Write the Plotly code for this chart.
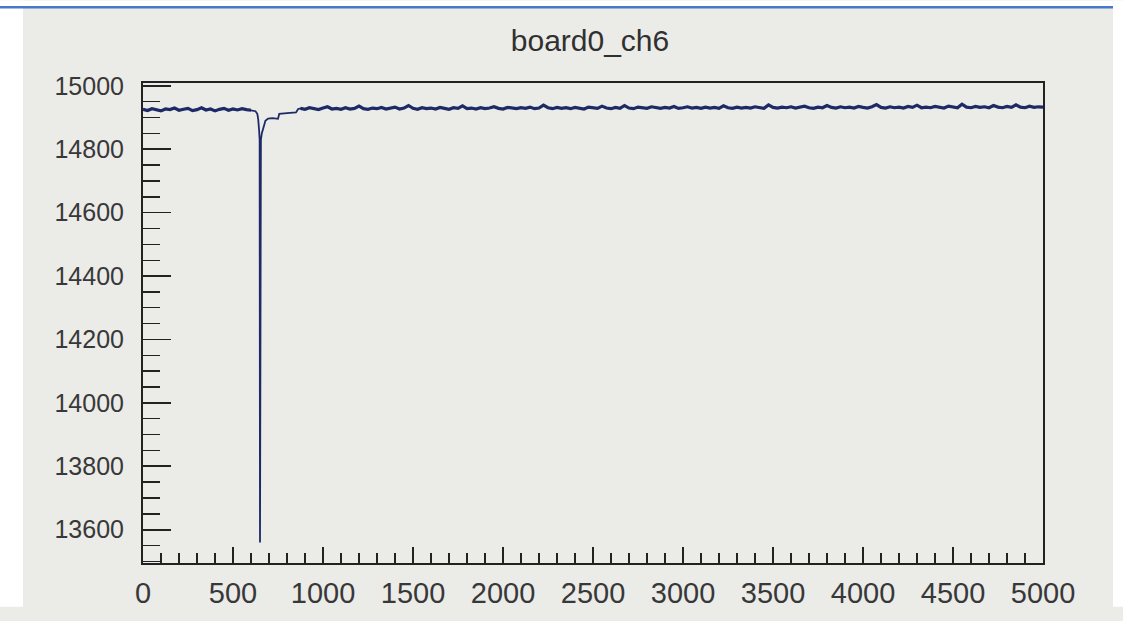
import plotly.graph_objects as go

# ---------------- data ----------------
SAMPLE_STEP = 25

# baseline before the pulse: x = 0 .. 600 (step 25)
pre_values = [14926, 14922, 14928, 14924, 14921, 14927, 14925, 14930, 14923, 14926,
              14929, 14922, 14925, 14931, 14924, 14927, 14921, 14926, 14929, 14923,
              14927, 14924, 14928, 14925, 14923]

# pulse region (irregular sampling)
pulse_x = [610, 625, 635, 640, 645, 648, 650, 652, 655, 660, 668, 680, 695, 720, 750,
           757, 800, 850, 862]
pulse_y = [14922, 14920, 14912, 14895, 14860, 14830, 13560, 14820, 14830, 14850, 14870,
           14890, 14897, 14898, 14896, 14912, 14914, 14916, 14927]

# baseline after the pulse: x = 875 .. 5000 (step 25)
post_start = 875
post_values = [
    14929, 14926, 14931, 14928, 14925, 14930, 14934, 14927, 14929, 14926,
    14931, 14927, 14929, 14936, 14928, 14926, 14930, 14928, 14932, 14927,
    14929, 14933, 14927, 14930, 14938, 14929, 14926, 14931, 14928, 14930,
    14927, 14932, 14929, 14926, 14931, 14929, 14937, 14928, 14930, 14927,
    14931, 14928, 14930, 14934, 14929, 14927, 14932, 14930, 14928, 14931,
    14929, 14933, 14928, 14930, 14939, 14931, 14928, 14932, 14929, 14931,
    14928, 14932, 14930, 14927, 14933, 14930, 14929, 14936, 14930, 14928,
    14932, 14929, 14938, 14930, 14928, 14933, 14930, 14929, 14934, 14931,
    14929, 14932, 14930, 14935, 14929, 14931, 14934, 14930, 14932, 14929,
    14933, 14930, 14932, 14929, 14937, 14931, 14929, 14933, 14930, 14932,
    14930, 14934, 14931, 14929, 14940, 14932, 14930, 14933, 14931, 14934,
    14930, 14932, 14936, 14931, 14929, 14933, 14931, 14938, 14932, 14930,
    14934, 14931, 14933, 14930, 14935, 14932, 14930, 14934, 14941, 14932,
    14930, 14934, 14931, 14933, 14930, 14935, 14932, 14939, 14931, 14933,
    14931, 14935, 14932, 14930, 14936, 14933, 14931, 14942, 14933, 14931,
    14935, 14932, 14934, 14931, 14938, 14933, 14931, 14935, 14932, 14940,
    14933, 14931, 14936, 14932, 14934, 14933]

title_text = "board0_ch6"
x_tickvals = [0, 500, 1000, 1500, 2000, 2500, 3000, 3500, 4000, 4500, 5000]
y_tickvals = [13600, 13800, 14000, 14200, 14400, 14600, 14800, 15000]
x_range = [0, 5000]
y_range = [13495, 15009]

# ---------------- assemble series ----------------
pre_x = [i * SAMPLE_STEP for i in range(len(pre_values))]
post_x = [post_start + i * SAMPLE_STEP for i in range(len(post_values))]
xs = pre_x + pulse_x + post_x
ys = pre_values + pulse_y + post_values

BG = "#ebebe8"
INK = "#222222"
TXT = "#383838"
LINE = "#1e2a66"

fig = go.Figure()
# whole waveform (thin, as the fast pulse is drawn in the picture)
fig.add_trace(go.Scatter(x=xs, y=ys, mode="lines",
                         line=dict(color=LINE, width=1.8),
                         hoverinfo="skip", showlegend=False))
# noisy baseline looks heavier in the picture
fig.add_trace(go.Scatter(x=pre_x + [None] + post_x, y=pre_values + [None] + post_values,
                         mode="lines", line=dict(color=LINE, width=3.2),
                         connectgaps=False, hoverinfo="skip", showlegend=False))

W, H = 1123, 621
ML, MR, MT, MB = 143, 80, 83, 43
plot_h = H - MT - MB
plot_w = W - ML - MR

def paper_y(py):
    return (H - MB - py) / plot_h

def paper_x(px):
    return (px - ML) / plot_w

fig.update_layout(
    width=W, height=H,
    margin=dict(l=ML, r=MR, t=MT, b=MB),
    paper_bgcolor=BG, plot_bgcolor=BG,
    font=dict(family="Liberation Sans, Arial, sans-serif", color=TXT),
    title=dict(text=title_text, xref="paper", x=paper_x(590), yref="container", y=1 - 40 / H,
               yanchor="middle", xanchor="center", font=dict(size=30, color="#303030")),
    showlegend=False,
)

fig.update_xaxes(
    range=x_range, tickvals=x_tickvals, ticktext=[str(v) for v in x_tickvals],
    ticks="inside", ticklen=16, tickwidth=1.6, tickcolor=INK,
    minor=dict(dtick=100, tick0=0, ticks="inside", ticklen=10, tickwidth=1.4, tickcolor=INK),
    showline=True, linecolor=INK, linewidth=2, mirror=True,
    showgrid=False, zeroline=False,
    tickfont=dict(size=29, color=TXT), ticklabelstandoff=3,
)
fig.update_yaxes(
    range=y_range, tickvals=y_tickvals, ticktext=[str(v) for v in y_tickvals],
    ticks="inside", ticklen=28, tickwidth=1.6, tickcolor=INK,
    minor=dict(dtick=50, tick0=13600, ticks="inside", ticklen=17, tickwidth=1.4, tickcolor=INK),
    showline=True, linecolor=INK, linewidth=2, mirror=True,
    showgrid=False, zeroline=False,
    tickfont=dict(size=25, color=TXT), ticklabelstandoff=12,
)

# white margins around the photographed area and the blue rule at the top
for (x0, x1, y0, y1) in [(-2, 23, -2, H + 2), (1113, W + 2, -2, H + 2), (-2, W + 2, -2, 4)]:
    fig.add_shape(type="rect", xref="paper", yref="paper",
                  x0=paper_x(x0), x1=paper_x(x1), y0=paper_y(y1), y1=paper_y(y0),
                  fillcolor="white", line_width=0, layer="above")
fig.add_shape(type="line", xref="paper", yref="paper", x0=paper_x(0), x1=paper_x(1113),
              y0=paper_y(5), y1=paper_y(5), line=dict(color="#4a78c8", width=2.5), layer="above")

fig.write_html("out.html", config={"displayModeBar": False, "staticPlot": True})

# remove the browser's default page margin so the figure sits at (0, 0)
with open("out.html", "r", encoding="utf-8") as fh:
    page = fh.read()
page = page.replace(
    "<head>",
    "<head><style>html,body{margin:0;padding:0;overflow:hidden;background:" + BG + ";}</style>",
    1)
with open("out.html", "w", encoding="utf-8") as fh:
    fh.write(page)
